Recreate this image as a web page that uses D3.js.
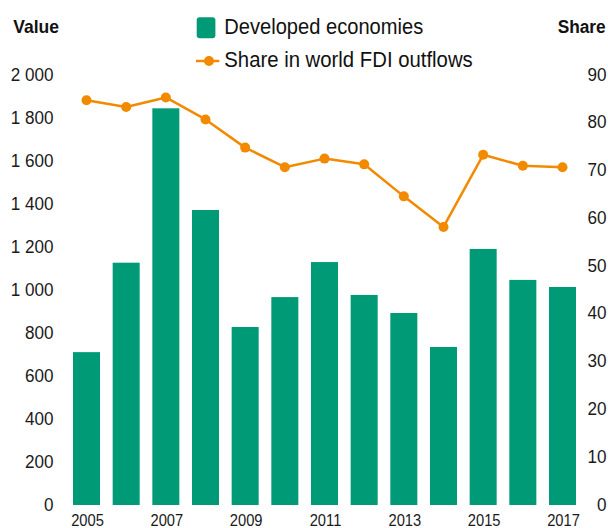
<!DOCTYPE html>
<html>
<head>
<meta charset="utf-8">
<script src="https://cdn.jsdelivr.net/npm/d3@7"></script>
<style>
  html, body { margin: 0; padding: 0; background: #fff; }
  svg { display: block; font-family: "Liberation Sans", Arial, sans-serif; }
</style>
</head>
<body>
<svg id="chart" width="608" height="528"></svg>
<script>
// ---- data ----
const years = ["2005","2006","2007","2008","2009","2010","2011","2012","2013","2014","2015","2016","2017"];
const values = [711, 1127, 1845, 1372, 828, 967, 1130, 977, 893, 735, 1191, 1047, 1014];
const shares = [84.7, 83.3, 85.3, 80.7, 74.8, 70.7, 72.5, 71.3, 64.6, 58.2, 73.3, 71.0, 70.7];
const valueTicks = [0, 200, 400, 600, 800, 1000, 1200, 1400, 1600, 1800, 2000];
const shareTicks = [0, 10, 20, 30, 40, 50, 60, 70, 80, 90];
const yearLabels = ["2005","2007","2009","2011","2013","2015","2017"];
const legendLabels = ["Developed economies", "Share in world FDI outflows"];
const axisTitles = ["Value", "Share"];

const green = "#009A77";
const orange = "#F28A00";

const svg = d3.select("#chart");

const x = d3.scaleBand().domain(years).range([66.67, 582.33]).paddingInner(0.3193).paddingOuter(0.15965);
const yV = d3.scaleLinear().domain([0, 2000]).range([505, 75]);
const yS = d3.scaleLinear().domain([0, 90]).range([505, 75]);

function fmt(d) {
  const s = String(d);
  return s.length > 3 ? s.slice(0, s.length - 3) + "\u2009" + s.slice(-3) : s;
}

// left axis
const gL = svg.append("g").attr("transform", "translate(62,0)")
  .call(d3.axisLeft(yV).tickValues(valueTicks).tickSize(0).tickFormat(d => d === 0 ? "0" : d3.format(",")(d).replace(",", " ")));
gL.select(".domain").remove();
gL.selectAll("text")
  .attr("x", 0).attr("dy", null).attr("y", 5)
  .attr("text-anchor", "end")
  .attr("transform", "translate(-8.5,0) scale(0.9,1)")
  .attr("font-size", 19).attr("font-family", "Liberation Sans, Arial, sans-serif").attr("fill", "#1a1a1a");

// right axis
const gR = svg.append("g").attr("transform", "translate(606.5,0)")
  .call(d3.axisRight(yS).tickValues(shareTicks).tickSize(0));
gR.select(".domain").remove();
gR.selectAll("text")
  .attr("x", 0).attr("dy", null).attr("y", 5)
  .attr("text-anchor", "end")
  .attr("transform", "scale(0.9,1)")
  .attr("font-size", 19).attr("font-family", "Liberation Sans, Arial, sans-serif").attr("fill", "#1a1a1a");

// bottom axis
const gB = svg.append("g").attr("transform", "translate(0,505)")
  .call(d3.axisBottom(x).tickValues(yearLabels).tickSize(0));
gB.select(".domain").remove();
gB.selectAll("text")
  .attr("dy", null).attr("y", 21)
  .attr("text-anchor", "middle")
  .attr("transform", "translate(1,0) scale(0.92,1)")
  .attr("font-size", 16).attr("font-family", "Liberation Sans, Arial, sans-serif").attr("fill", "#1a1a1a");
// compensate x for scale
gB.selectAll("text").attr("x", 0);

// bars
svg.append("g").selectAll("rect").data(years).join("rect")
  .attr("x", d => x(d))
  .attr("y", (d, i) => yV(values[i]))
  .attr("width", x.bandwidth())
  .attr("height", (d, i) => yV(0) - yV(values[i]))
  .attr("fill", green);

// line
const cx = d => x(d) + x.bandwidth() / 2;
const line = d3.line().x((d, i) => cx(years[i])).y(d => yS(d));
svg.append("path").datum(shares)
  .attr("d", line).attr("fill", "none")
  .attr("stroke", orange).attr("stroke-width", 2.5).attr("stroke-linejoin", "round");
svg.append("g").selectAll("circle").data(shares).join("circle")
  .attr("cx", (d, i) => cx(years[i]))
  .attr("cy", d => yS(d))
  .attr("r", 5)
  .attr("fill", orange);

// scaled text helper
function sText(px, py, str, opts) {
  const g = svg.append("g").attr("transform", `translate(${px},${py})`);
  g.append("text")
    .attr("transform", `scale(${opts.sx},1)`)
    .attr("text-anchor", opts.anchor || "start")
    .attr("font-size", opts.size)
    .attr("font-weight", opts.weight || "normal")
    .attr("fill", opts.fill || "#111")
    .text(str);
}

// axis titles
sText(13.3, 32.7, axisTitles[0], { sx: 0.94, size: 18.6, weight: "bold" });
sText(605.7, 32.7, axisTitles[1], { sx: 0.93, size: 18.6, weight: "bold", anchor: "end" });

// legend
svg.append("rect").attr("x", 196.7).attr("y", 17.3).attr("width", 18.7).attr("height", 21)
  .attr("rx", 3).attr("fill", green);
sText(224.3, 34.3, legendLabels[0], { sx: 0.94, size: 21.4 });
svg.append("line").attr("x1", 196).attr("x2", 219.3).attr("y1", 61).attr("y2", 61)
  .attr("stroke", orange).attr("stroke-width", 2.5);
svg.append("circle").attr("cx", 209).attr("cy", 61).attr("r", 5).attr("fill", orange);
sText(224.3, 67, legendLabels[1], { sx: 0.95, size: 21.4 });
</script>
</body>
</html>
